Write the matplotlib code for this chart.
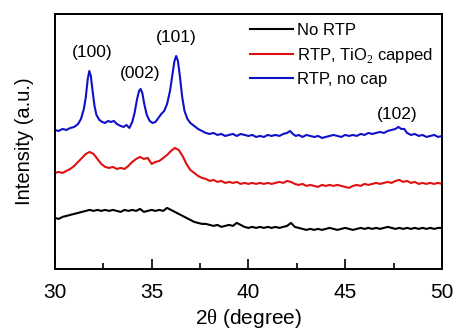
import numpy as np
import matplotlib
matplotlib.use('Agg')
import matplotlib.pyplot as plt

plt.rcParams['font.family'] = ['Liberation Sans', 'DejaVu Sans']
plt.rcParams['mathtext.fontset'] = 'custom'
plt.rcParams['mathtext.rm'] = 'Liberation Serif'

# XRD patterns (2theta in degree, intensity in a.u.)
blue_x = [30.0, 30.2, 30.4, 30.6, 30.8, 31.0, 31.2, 31.35, 31.5, 31.6, 31.7, 31.78, 31.86, 31.95,
          32.05, 32.15, 32.3, 32.45, 32.6, 32.75, 32.9, 33.05, 33.2, 33.4, 33.55, 33.7, 33.85,
          34.0, 34.12, 34.25, 34.35, 34.43, 34.52, 34.62, 34.75, 34.9, 35.05, 35.2, 35.35, 35.5,
          35.65, 35.8, 35.95, 36.08, 36.18, 36.27, 36.36, 36.46, 36.58, 36.7, 36.85, 37.0, 37.2,
          37.4, 37.6, 37.8, 38.0, 38.2, 38.4, 38.6, 38.8, 39.0, 39.2, 39.4, 39.6, 39.8, 40.0,
          40.2, 40.4, 40.6, 40.8, 41.0, 41.2, 41.4, 41.6, 41.8, 42.0, 42.15, 42.3, 42.45, 42.6,
          42.8, 43.0, 43.2, 43.4, 43.6, 43.8, 44.0, 44.2, 44.4, 44.6, 44.8, 45.0, 45.2, 45.4,
          45.6, 45.8, 46.0, 46.2, 46.4, 46.6, 46.8, 47.0, 47.2, 47.4, 47.6, 47.75, 47.9, 48.05,
          48.2, 48.4, 48.6, 48.8, 49.0, 49.2, 49.4, 49.6, 49.8, 50.0]
blue_y = [139, 138, 140, 139, 141, 142, 145, 150, 160, 172, 190, 198, 193, 178,
          163, 154, 149, 147, 146, 148, 147, 148, 145, 143, 142, 144, 141,
          147, 156, 170, 178, 180, 176, 165, 154, 148, 146, 147, 151, 155,
          158, 165, 178, 195, 208, 213, 208, 193, 172, 158, 150, 146, 143,
          140, 138, 136, 135, 136, 134, 135, 133, 134, 135, 133, 135, 134, 133,
          134, 132, 133, 132, 134, 133, 134, 133, 135, 136, 138, 135, 133, 134,
          132, 134, 133, 132, 133, 131, 132, 133, 134, 133, 132, 134, 133, 134,
          133, 135, 134, 136, 135, 136, 137, 136, 138, 139, 140, 142, 140, 140,
          136, 134, 135, 133, 134, 132, 133, 134, 132, 133]

# red and black were read every 0.2 degree from 30 to 50
grid_x = np.linspace(30, 50, 101)
red_y = [96, 97, 96, 98, 100, 103, 107, 111, 115, 117,
         115, 110, 105, 102, 101, 102, 100, 101, 100, 103,
         107, 110, 112, 110, 111, 105, 107, 108, 111, 114,
         118, 121, 119, 113, 105, 99, 96, 93, 91, 90,
         88, 89, 87, 88, 86, 87, 86, 87, 85, 86,
         85, 86, 85, 86, 85, 86, 85, 86, 87, 86,
         88, 87, 85, 84, 85, 83, 84, 83, 82, 84,
         83, 84, 83, 84, 83, 82, 81, 83, 84, 83,
         85, 84, 85, 86, 85, 86, 87, 86, 88, 89,
         87, 88, 86, 87, 85, 86, 85, 86, 85, 86,
         85]
black_y = [51, 50, 52, 53, 54, 55, 56, 57, 58, 59,
           58, 59, 58, 59, 58, 59, 58, 57, 59, 58,
           59, 58, 60, 57, 58, 59, 58, 59, 58, 61,
           59, 57, 55, 53, 51, 49, 47, 46, 45, 45,
           44, 43, 44, 42, 43, 44, 43, 46, 44, 42,
           41, 42, 41, 42, 41, 42, 41, 42, 41, 42,
           43, 46, 42, 41, 40, 39, 40, 39, 40, 39,
           40, 41, 40, 39, 40, 41, 40, 39, 40, 41,
           40, 41, 40, 41, 40, 41, 42, 41, 40, 41,
           40, 41, 40, 41, 40, 41, 40, 41, 40, 41,
           41]

labels = ['No RTP', 'RTP, TiO$_2$ capped', 'RTP, no cap']
colors = ['black', '#e01010', '#1010c8']

peak_names = ['(100)', '(002)', '(101)', '(102)']
peak_x = [31.95, 34.4, 36.25, 47.7]
peak_y = [217, 195, 232, 154]

fig = plt.figure(figsize=(4.57, 3.34), dpi=100)
ax = fig.add_axes([0.12, 0.195, 0.847, 0.763])

ax.plot(grid_x, black_y, color=colors[0], lw=1.5, label=labels[0])
ax.plot(grid_x, red_y, color=colors[1], lw=1.5, label=labels[1])
ax.plot(blue_x, blue_y, color=colors[2], lw=1.5, label=labels[2])

for name, px, py in zip(peak_names, peak_x, peak_y):
    ax.text(px, py, name, ha='center', va='center', fontsize=12.5)

ax.set_xlim(30, 50)
ax.set_ylim(0, 255)
ax.set_xticks([30, 35, 40, 45, 50])
ax.set_xticks([32.5, 37.5, 42.5, 47.5], minor=True)
ax.set_yticks([])
ax.tick_params(axis='x', which='major', direction='in', length=7, width=1.2, labelsize=15, pad=10)
ax.tick_params(axis='x', which='minor', direction='in', length=4, width=1.2)
for sp in ax.spines.values():
    sp.set_linewidth(1.4)

ax.set_xlabel(r'2$\mathrm{θ}$ (degree)', fontsize=15, labelpad=4)
ax.set_ylabel('Intensity (a.u.)', fontsize=14.5, labelpad=15)

ax.legend(loc='upper right', frameon=False, fontsize=12, handlelength=2.6,
          handletextpad=0.2, labelspacing=0.45, borderaxespad=0.15)

fig.savefig('out.png', dpi=100)
